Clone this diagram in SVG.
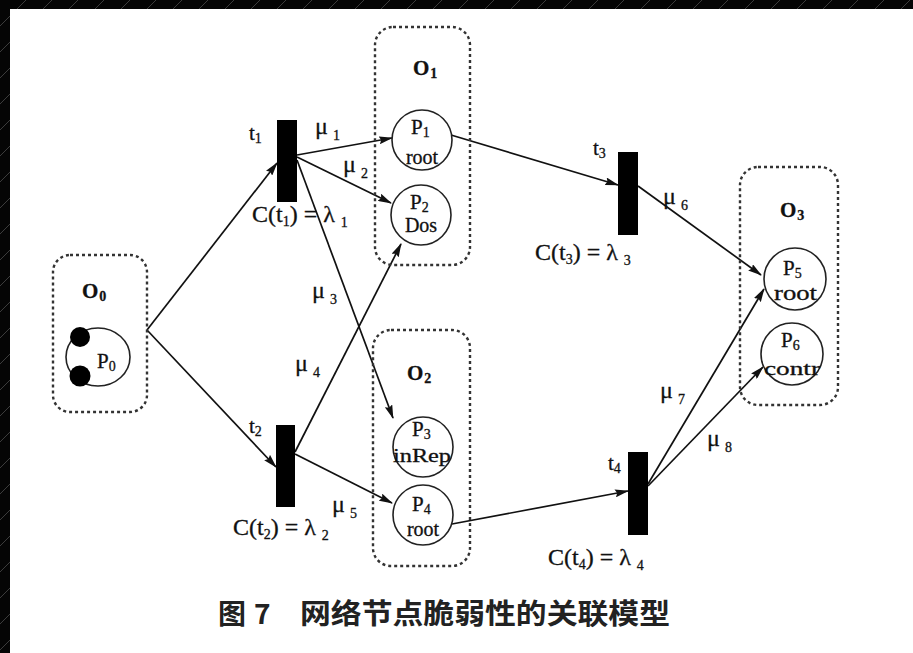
<svg xmlns="http://www.w3.org/2000/svg" width="913" height="653" viewBox="0 0 913 653">
<style>
.box{fill:none;stroke:#333;stroke-width:2.4;stroke-dasharray:3 3;}
.place{fill:#fff;stroke:#222;stroke-width:1.6;}
.bar{fill:#000;}
.edge{fill:none;stroke:#111;stroke-width:1.7;marker-end:url(#arr);}
.t{font-family:"Liberation Serif","Times New Roman",serif;fill:#111;stroke:#111;stroke-width:0.3;}
.big{font-size:24px;}
.mid{font-size:21px;}
.sm{font-size:20px;}
.xs{font-size:18px;}
.olbl{font-size:21px;font-weight:bold;}
.sub{font-size:14px;}
.cap{font-family:"Noto Sans CJK SC","Noto Sans CJK TC",sans-serif;font-weight:700;font-size:28px;fill:#222;}
</style>
<defs>
<marker id="arr" markerUnits="userSpaceOnUse" markerWidth="14" markerHeight="8" refX="13" refY="4" orient="auto">
<path d="M0,0 L14,4 L0,8 L2,4 z" fill="#111"/>
</marker>
<pattern id="bg" width="26" height="26" patternUnits="userSpaceOnUse">
<rect width="26" height="26" fill="#050505"/>
<path d="M0,26 L26,0" stroke="#3c3c3c" stroke-width="1"/>
</pattern>
</defs>
<rect width="913" height="653" fill="url(#bg)"/>
<rect x="10" y="9" width="903" height="644" fill="#fff"/>

<g id="connectors">
<line class="edge" x1="147" y1="330" x2="277" y2="163"/>
<line class="edge" x1="147" y1="330" x2="276" y2="467"/>
<line class="edge" x1="297" y1="155" x2="392" y2="138"/>
<line class="edge" x1="297" y1="157" x2="391" y2="203"/>
<line class="edge" x1="297" y1="160" x2="393" y2="418"/>
<line class="edge" x1="295" y1="452" x2="401" y2="244"/>
<line class="edge" x1="295" y1="454" x2="392" y2="503"/>
<line class="edge" x1="451" y1="135" x2="618" y2="185"/>
<line class="edge" x1="638" y1="186" x2="761" y2="275"/>
<line class="edge" x1="452" y1="524" x2="628" y2="491"/>
<line class="edge" x1="648" y1="484" x2="764" y2="289"/>
<line class="edge" x1="648" y1="486" x2="763" y2="367"/>
</g>

<g id="O0">
<rect class="box" x="53" y="255" width="94" height="157" rx="17"/>
<text class="t olbl" x="82" y="298">O<tspan class="sub" dx="1" dy="3">0</tspan></text>
</g>
<g id="P0">
<ellipse class="place" cx="98" cy="357" rx="32" ry="29"/>
<circle cx="80" cy="337" r="10" fill="#000"/>
<circle cx="80" cy="376" r="10.5" fill="#000"/>
<text class="t mid" x="97" y="368">P<tspan class="sub" dy="3">0</tspan></text>
</g>

<g id="O1">
<rect class="box" x="375" y="27" width="95" height="238" rx="18"/>
<text class="t olbl" x="413" y="75">O<tspan class="sub" dx="1" dy="3">1</tspan></text>
</g>
<g id="P1">
<circle class="place" cx="422" cy="140" r="30"/>
<text class="t mid" x="411" y="134">P<tspan class="sub" dy="3">1</tspan></text>
<text class="t sm" x="422" y="164" text-anchor="middle">root</text>
</g>
<g id="P2">
<circle class="place" cx="421" cy="215" r="30"/>
<text class="t mid" x="410" y="209">P<tspan class="sub" dy="3">2</tspan></text>
<text class="t sm" x="421" y="232" text-anchor="middle">Dos</text>
</g>

<g id="O2">
<rect class="box" x="373" y="330" width="97" height="236" rx="18"/>
<text class="t olbl" x="407" y="380">O<tspan class="sub" dx="1" dy="3">2</tspan></text>
</g>
<g id="P3">
<circle class="place" cx="423" cy="447" r="30"/>
<text class="t mid" x="412" y="436">P<tspan class="sub" dy="3">3</tspan></text>
<text class="t xs" x="393" y="462" textLength="58" lengthAdjust="spacingAndGlyphs">inRep</text>
</g>
<g id="P4">
<circle class="place" cx="423" cy="515" r="30"/>
<text class="t mid" x="412" y="511">P<tspan class="sub" dy="3">4</tspan></text>
<text class="t sm" x="423" y="536" text-anchor="middle">root</text>
</g>

<g id="O3">
<rect class="box" x="740" y="167" width="98" height="238" rx="18"/>
<text class="t olbl" x="780" y="217">O<tspan class="sub" dx="1" dy="3">3</tspan></text>
</g>
<g id="P5">
<circle class="place" cx="795" cy="279" r="31"/>
<text class="t mid" x="783" y="275">P<tspan class="sub" dy="3">5</tspan></text>
<text class="t sm" x="774" y="300" textLength="43" lengthAdjust="spacingAndGlyphs">root</text>
</g>
<g id="P6">
<circle class="place" cx="792" cy="354" r="31"/>
<text class="t mid" x="781" y="347">P<tspan class="sub" dy="3">6</tspan></text>
<text class="t xs" x="764" y="375" textLength="56" lengthAdjust="spacingAndGlyphs">contr</text>
</g>

<g id="t1">
<rect class="bar" x="277" y="120" width="20" height="82"/>
<text class="t mid" x="249" y="140">t<tspan class="sub" dy="3">1</tspan></text>
<text class="t big" x="252" y="222">C(t<tspan class="sub" dy="4">1</tspan><tspan dy="-4">) = λ</tspan><tspan class="sub" dx="6" dy="5">1</tspan></text>
</g>
<g id="t2">
<rect class="bar" x="276" y="425" width="19" height="82"/>
<text class="t mid" x="249" y="433">t<tspan class="sub" dy="3">2</tspan></text>
<text class="t big" x="233" y="535">C(t<tspan class="sub" dy="4">2</tspan><tspan dy="-4">) = λ</tspan><tspan class="sub" dx="6" dy="5">2</tspan></text>
</g>
<g id="t3">
<rect class="bar" x="618" y="152" width="20" height="83"/>
<text class="t mid" x="593" y="155">t<tspan class="sub" dy="3">3</tspan></text>
<text class="t big" x="535" y="260">C(t<tspan class="sub" dy="4">3</tspan><tspan dy="-4">) = λ</tspan><tspan class="sub" dx="6" dy="5">3</tspan></text>
</g>
<g id="t4">
<rect class="bar" x="628" y="452" width="20" height="83"/>
<text class="t mid" x="608" y="470">t<tspan class="sub" dy="3">4</tspan></text>
<text class="t big" x="548" y="565">C(t<tspan class="sub" dy="4">4</tspan><tspan dy="-4">) = λ</tspan><tspan class="sub" dx="6" dy="5">4</tspan></text>
</g>

<g id="labels">
<text class="t big" x="315" y="134">μ<tspan class="sub" dx="5" dy="6">1</tspan></text>
<text class="t big" x="343" y="172">μ<tspan class="sub" dx="5" dy="6">2</tspan></text>
<text class="t big" x="312" y="298">μ<tspan class="sub" dx="5" dy="6">3</tspan></text>
<text class="t big" x="295" y="371">μ<tspan class="sub" dx="5" dy="6">4</tspan></text>
<text class="t big" x="332" y="512">μ<tspan class="sub" dx="5" dy="6">5</tspan></text>
<text class="t big" x="663" y="204">μ<tspan class="sub" dx="5" dy="6">6</tspan></text>
<text class="t big" x="660" y="398">μ<tspan class="sub" dx="5" dy="6">7</tspan></text>
<text class="t big" x="707" y="446">μ<tspan class="sub" dx="5" dy="6">8</tspan></text>
</g>

<g id="caption">
<text class="cap" x="218" y="624">图</text>
<text class="cap" x="254" y="624">7</text>
<text class="cap" x="300" y="624" textLength="370" lengthAdjust="spacingAndGlyphs">网络节点脆弱性的关联模型</text>
</g>
</svg>
